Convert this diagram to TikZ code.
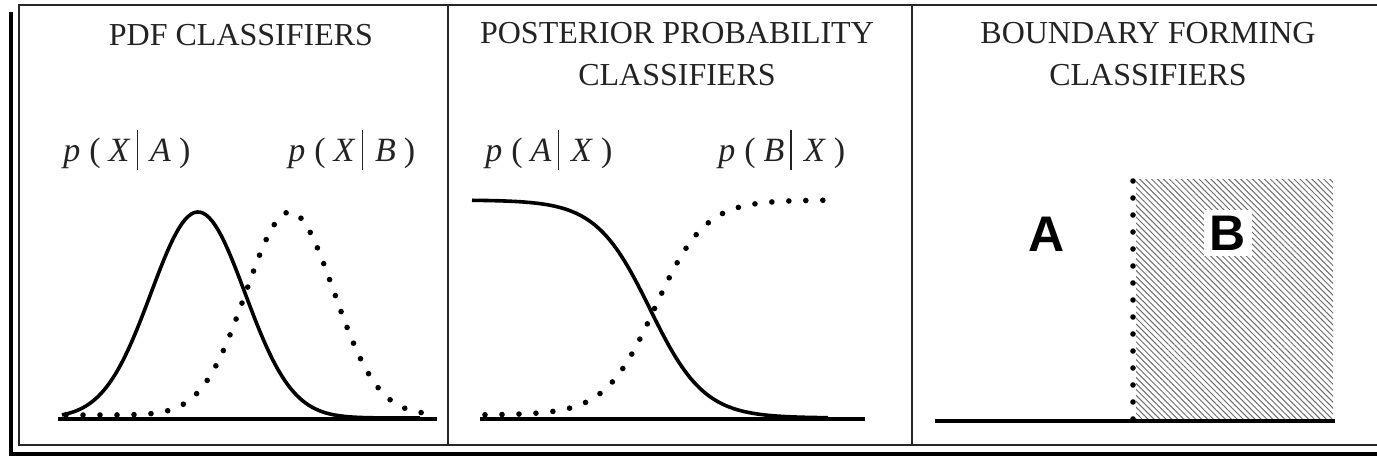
\documentclass[tikz,border=0pt]{standalone}
\usepackage{fontspec}
\setmainfont{Liberation Serif}
\newfontfamily\regionfont{Liberation Sans}
\usetikzlibrary{patterns.meta,positioning}
\definecolor{InkGray}{RGB}{35,35,35}
\definecolor{HatchGray}{RGB}{110,110,110}
\tikzset{
  paneltitle/.style={align=center,text=InkGray,font=\fontsize{16}{21}\selectfont,inner sep=0pt},
  problabel/.style={text=InkGray,font=\fontsize{17}{19}\selectfont,inner sep=0pt,anchor=base west},
  regionlabel/.style={font=\regionfont\bfseries\fontsize{25}{25}\selectfont,inner sep=3pt},
  axisline/.style={line width=2pt,draw=black},
  solidcurve/.style={line width=1.8pt,draw=black},
  dotcurve/.style={line width=2.8pt,line cap=round,dash pattern=on 0pt off 8.5pt,draw=black},
  framethin/.style={line width=1pt,draw=black!85},
  framethick/.style={line width=2pt,draw=black},
  hatched/.style={pattern={Lines[angle=-45,distance=2.1pt,line width=0.5pt]},pattern color=HatchGray}
}
\newcommand{\condprob}[2]{\textit{p}\hspace{4.5pt}(\hspace{4pt}\textit{#1}\hspace{3pt}\rule[-4pt]{0.8pt}{20pt}\hspace{6pt}\textit{#2}\hspace{4pt})}

\begin{document}
\begin{tikzpicture}[x=0.5pt,y=-0.5pt]
\useasboundingbox (0,0) rectangle (1377,459);
% frame and panel dividers
\draw[framethin] (1377,5) -- (19,5) -- (19,445) -- (1377,445);
\draw[framethick] (11,12) -- (11,454) -- (1377,454);
\draw[framethin] (448,5) -- (448,445);
\draw[framethin] (912,5) -- (912,445);

% titles
\node[paneltitle] (tpdf) at (241,35) {PDF CLASSIFIERS};
\node[paneltitle] (tpost) at (677,54) {POSTERIOR PROBABILITY\\CLASSIFIERS};
\node[paneltitle] (tbound) at (1148,54) {BOUNDARY FORMING\\CLASSIFIERS};

% pdf panel
\node[problabel] (lxa) at (63,162) {\condprob{X}{A}};
\node[problabel] (lxb) at (288,162) {\condprob{X}{B}};
\draw[axisline] (58,419) -- (437,419);
\draw[solidcurve] plot[domain=62:420,samples=120] (\x,{418-206*exp(-0.5*((\x-198)/47)^2)});
\draw[dotcurve] plot[domain=66:424,samples=160] (\x,{415-203*exp(-0.5*((\x-290)/44)^2)});

% posterior panel
\node[problabel] (lax) at (485,162) {\condprob{A}{X}};
\node[problabel] (lbx) at (718,162) {\condprob{B}{X}};
\draw[axisline] (480,419) -- (865,419);
\draw[solidcurve] plot[domain=472:828,samples=120] (\x,{200+218/(1+exp(-(\x-650)/27))});
\draw[dotcurve] plot[domain=485:828,samples=160] (\x,{415-215/(1+exp(-(\x-655)/25))});

% boundary panel
\fill[hatched] (1136,180) rectangle (1333,419);
\draw[dotcurve] (1133,419) -- (1133,178);
\draw[axisline] (935,421) -- (1335,421);
\node[regionlabel] (ra) at (1047,234) {A};
\node[regionlabel,fill=white] (rb) at (1228,233) {B};
\end{tikzpicture}
\end{document}
